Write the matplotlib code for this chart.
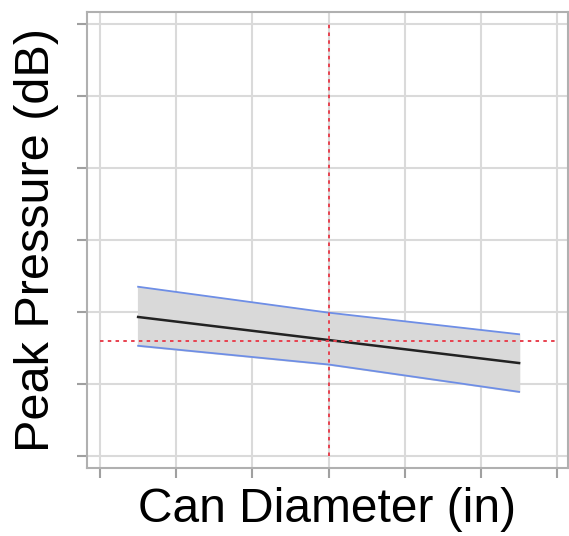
import matplotlib
matplotlib.use("Agg")
import matplotlib.pyplot as plt

# profiler: peak pressure vs can diameter
can_diam = [0.5, 3.0, 5.5]
pred = [1.93, 1.61, 1.29]
upper = [2.35, 1.99, 1.69]
lower = [1.53, 1.27, 0.89]
ref_x = 3.0
ref_y = 1.60
ticks = [0, 1, 2, 3, 4, 5, 6]

plt.rcParams['font.family'] = ['Liberation Sans', 'DejaVu Sans']

fig = plt.figure(figsize=(5.69, 5.36), dpi=100)
ax = fig.add_axes([0.153, 0.127, 0.845, 0.851])

ax.fill_between(can_diam, lower, upper, color='#d9d9d9', zorder=2)
ax.plot(can_diam, upper, color='#6e8ee6', lw=1.3, zorder=3)
ax.plot(can_diam, lower, color='#6e8ee6', lw=1.3, zorder=3)
ax.plot(can_diam, pred, color='#222222', lw=1.8, zorder=4)

ax.plot([ticks[0], ticks[-1]], [ref_y, ref_y], color='#e8414f', lw=1.4,
        linestyle=(0, (1.8, 2.2)), zorder=5)
ax.plot([ref_x, ref_x], [ticks[0], ticks[-1]], color='#e8414f', lw=1.4,
        linestyle=(0, (1.8, 2.2)), zorder=5)

ax.set_xlim(-0.17, 6.14)
ax.set_ylim(-0.167, 6.17)
ax.set_xticks(ticks)
ax.set_yticks(ticks)
ax.set_xticklabels([])
ax.set_yticklabels([])
ax.tick_params(direction='out', length=7, width=1.5, color='#a0a0a0')
ax.grid(True, color='#dadada', lw=1.5, zorder=1)
ax.set_axisbelow(True)
for s in ax.spines.values():
    s.set_color('#b0b0b0')
    s.set_linewidth(1.5)

ax.set_xlabel('Can Diameter (in)', fontsize=34.5, labelpad=3)
ax.set_ylabel('Peak Pressure (dB)', fontsize=35, labelpad=10)

fig.savefig('out.png', dpi=100)
